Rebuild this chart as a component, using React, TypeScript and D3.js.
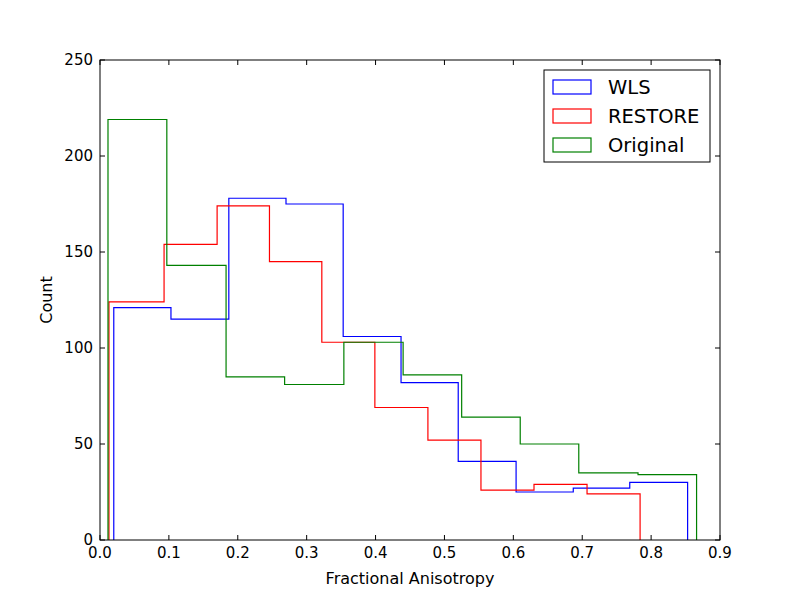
import React from "react";
import * as d3 from "d3";

const wlsEdges = [0.02, 0.103, 0.187, 0.27, 0.353, 0.437, 0.52, 0.604, 0.687, 0.769, 0.853];
const wlsCounts = [121, 115, 178, 175, 106, 82, 41, 25, 27, 30];
const restoreEdges = [0.013, 0.093, 0.17, 0.246, 0.322, 0.399, 0.476, 0.553, 0.63, 0.707, 0.784];
const restoreCounts = [124, 154, 174, 145, 103, 69, 52, 26, 29, 24];
const origEdges = [0.0116, 0.097, 0.183, 0.268, 0.354, 0.44, 0.525, 0.61, 0.695, 0.781, 0.866];
const origCounts = [219, 143, 85, 81, 103, 86, 64, 50, 35, 34];
const xTicks = [0, 0.1, 0.2, 0.3, 0.4, 0.5, 0.6, 0.7, 0.8, 0.9];
const yTicks = [0, 50, 100, 150, 200, 250];

const series = [
  { name: "WLS", color: "#0000ff", edges: wlsEdges, counts: wlsCounts },
  { name: "RESTORE", color: "#ff0000", edges: restoreEdges, counts: restoreCounts },
  { name: "Original", color: "#008000", edges: origEdges, counts: origCounts },
];

const L = 100, R = 720, T = 60, B = 540;

export default function App() {
  const x = d3.scaleLinear().domain([0, 0.9]).range([L, R]);
  const y = d3.scaleLinear().domain([0, 250]).range([B, T]);

  const stepPath = (edges: number[], counts: number[]) => {
    let d = `M${x(edges[0])},${y(0)}`;
    counts.forEach((c, i) => {
      d += `L${x(edges[i])},${y(c)}L${x(edges[i + 1])},${y(c)}`;
    });
    d += `L${x(edges[edges.length - 1])},${y(0)}`;
    return d;
  };

  const font = "DejaVu Sans, sans-serif";
  return (
    <svg width={800} height={600} style={{ position: "absolute", left: 0, top: 0, background: "#fff" }} fontFamily={font}>
      <rect x={0} y={0} width={800} height={600} fill="#fff" />
      {series.map((s) => (
        <path key={s.name} d={stepPath(s.edges, s.counts)} fill="none" stroke={s.color} strokeWidth={1.2} />
      ))}
      {xTicks.map((t) => (
        <g key={"x" + t}>
          <line x1={x(t)} x2={x(t)} y1={B} y2={B - 5} stroke="#000" />
          <line x1={x(t)} x2={x(t)} y1={T} y2={T + 5} stroke="#000" />
          <text x={x(t)} y={B + 18} textAnchor="middle" fontSize={15}>{t.toFixed(1)}</text>
        </g>
      ))}
      {yTicks.map((t) => (
        <g key={"y" + t}>
          <line x1={L} x2={L + 5} y1={y(t)} y2={y(t)} stroke="#000" />
          <line x1={R} x2={R - 5} y1={y(t)} y2={y(t)} stroke="#000" />
          <text x={L - 7} y={y(t) + 5} textAnchor="end" fontSize={15}>{t}</text>
        </g>
      ))}
      <rect x={L} y={T} width={R - L} height={B - T} fill="none" stroke="#000" />
      <text x={(L + R) / 2} y={584} textAnchor="middle" fontSize={16}>Fractional Anisotropy</text>
      <text transform={`translate(52,${(T + B) / 2}) rotate(-90)`} textAnchor="middle" fontSize={16}>Count</text>
      <g>
        <rect x={544} y={70} width={166} height={92} fill="#fff" stroke="#000" />
        {series.map((s, i) => (
          <g key={"l" + s.name}>
            <rect x={553} y={80 + i * 29} width={38} height={14} fill="none" stroke={s.color} strokeWidth={1.2} />
            <text x={608} y={94 + i * 29} fontSize={19.5}>{s.name}</text>
          </g>
        ))}
      </g>
    </svg>
  );
}
